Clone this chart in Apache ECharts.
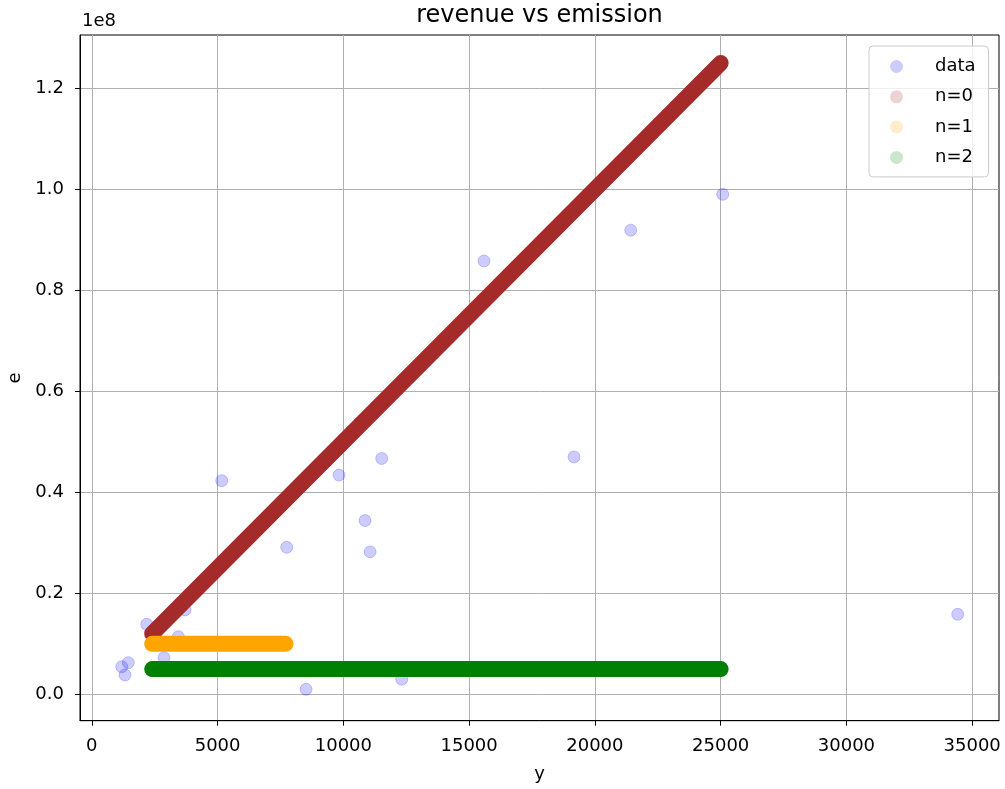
<!DOCTYPE html>
<html>
<head>
<meta charset="utf-8">
<script src="https://cdn.jsdelivr.net/npm/echarts@6/dist/echarts.min.js"></script>
<style>html,body{margin:0;padding:0;background:#fff;}#c{width:1005px;height:789px;}</style>
</head>
<body>
<div id="c"></div>
<script>
// scatter "data" : y (revenue) and e (emission)
const dataY = [1189, 1451, 1320, 2183, 3439, 3705, 2870, 7749, 10862, 11060, 8516, 12321, 15593, 21425, 19171, 5164, 9828, 11526, 25083, 34426];
const dataE = [5.47e6, 6.26e6, 3.82e6, 1.386e7, 1.14e7, 1.67e7, 7.25e6, 2.91e7, 3.44e7, 2.82e7, 9.9e5, 2.97e6, 8.58e7, 9.19e7, 4.70e7, 4.23e7, 4.34e7, 4.67e7, 9.90e7, 1.584e7];
// fitted bands (endpoints)
const n0Y = [2400, 25000];
const n0E = [1.2e7, 1.25e8];
const n1Y = [2400, 7700];
const n1E = [1.0e7, 1.0e7];
const n2Y = [2400, 25000];
const n2E = [5.0e6, 5.0e6];
// ticks
const xTicks = [0, 5000, 10000, 15000, 20000, 25000, 30000, 35000];
const yTicks = [0, 0.2e8, 0.4e8, 0.6e8, 0.8e8, 1.0e8, 1.2e8];

const zip = (a, b) => a.map((v, i) => [v, b[i]]);
const FONT = 'DejaVu Sans';
const chart = echarts.init(document.getElementById('c'), null, {renderer: 'canvas'});
chart.setOption({
  animation: false,
  backgroundColor: '#fff',
  grid: {left: 80, right: 6, top: 35, bottom: 68.3, show: true, borderColor: '#000', borderWidth: 1,
    containLabel: false, outerBoundsMode: 'none'},
  graphic: [
    {type: 'text', x: 539.5, y: 16, style: {text: 'revenue vs emission', align: 'center', verticalAlign: 'middle', font: '24px "DejaVu Sans"', fill: '#000'}},
    {type: 'text', x: 82, y: 21, style: {text: '1e8', align: 'left', verticalAlign: 'middle', font: '18px "DejaVu Sans"', fill: '#000'}}
  ],
  legend: {
    orient: 'vertical', left: 869, top: 46,
    padding: [11.5, 13, 10.5, 21],
    itemWidth: 13, itemHeight: 13, itemGap: 12.3,
    icon: 'circle',
    backgroundColor: 'rgba(255,255,255,0.8)', borderColor: '#cccccc', borderWidth: 1, borderRadius: 4,
    textStyle: {fontFamily: FONT, fontSize: 18, color: '#000', padding: [0, 0, 0, 27]},
    data: [
      {name: 'data', itemStyle: {color: 'rgba(0,0,255,0.2)', borderWidth: 0}},
      {name: 'n=0', itemStyle: {color: 'rgba(165,42,42,0.2)', borderWidth: 0}},
      {name: 'n=1', itemStyle: {color: 'rgba(255,165,0,0.2)', borderWidth: 0}},
      {name: 'n=2', itemStyle: {color: 'rgba(0,128,0,0.2)', borderWidth: 0}}
    ]
  },
  xAxis: {
    type: 'value', min: -470, max: 36066,
    name: 'y', nameLocation: 'middle', nameGap: 45,
    nameTextStyle: {fontFamily: FONT, fontSize: 18, color: '#000'},
    axisLine: {show: true, onZero: false, lineStyle: {color: '#000', width: 1}},
    axisTick: {show: true, inside: false, length: 5, lineStyle: {color: '#000'}, customValues: xTicks},
    axisLabel: {fontFamily: FONT, fontSize: 18, color: '#000', margin: 17, customValues: xTicks,
      formatter: v => String(v)},
    splitLine: {show: true, lineStyle: {color: '#b0b0b0', width: 1}}
  },
  yAxis: {
    type: 'value', min: -0.0523e8, max: 1.3055e8,
    name: 'e', nameLocation: 'middle', nameGap: 56, nameRotate: 90,
    nameTextStyle: {fontFamily: FONT, fontSize: 18, color: '#000'},
    axisLine: {show: true, onZero: false, lineStyle: {color: '#000', width: 1}},
    axisTick: {show: true, inside: false, length: 5, lineStyle: {color: '#000'}, customValues: yTicks},
    axisLabel: {fontFamily: FONT, fontSize: 18, color: '#000', margin: 16, customValues: yTicks,
      formatter: v => (v / 1e8).toFixed(1)},
    splitLine: {show: true, lineStyle: {color: '#b0b0b0', width: 1}}
  },
  series: [
    {name: 'data', type: 'scatter', data: zip(dataY, dataE), symbolSize: 12,
      itemStyle: {color: 'rgba(0,0,255,0.2)', borderColor: 'rgba(0,0,255,0.2)', borderWidth: 1, opacity: 1}, silent: true},
    {name: 'n=0', type: 'line', data: zip(n0Y, n0E), symbol: 'none', color: '#a52a2a',
      lineStyle: {color: '#a52a2a', width: 16, cap: 'round'}, silent: true},
    {name: 'n=1', type: 'line', data: zip(n1Y, n1E), symbol: 'none', color: '#ffa500',
      lineStyle: {color: '#ffa500', width: 16, cap: 'round'}, silent: true},
    {name: 'n=2', type: 'line', data: zip(n2Y, n2E), symbol: 'none', color: '#008000',
      lineStyle: {color: '#008000', width: 16, cap: 'round'}, silent: true}
  ]
});
</script>
</body>
</html>
